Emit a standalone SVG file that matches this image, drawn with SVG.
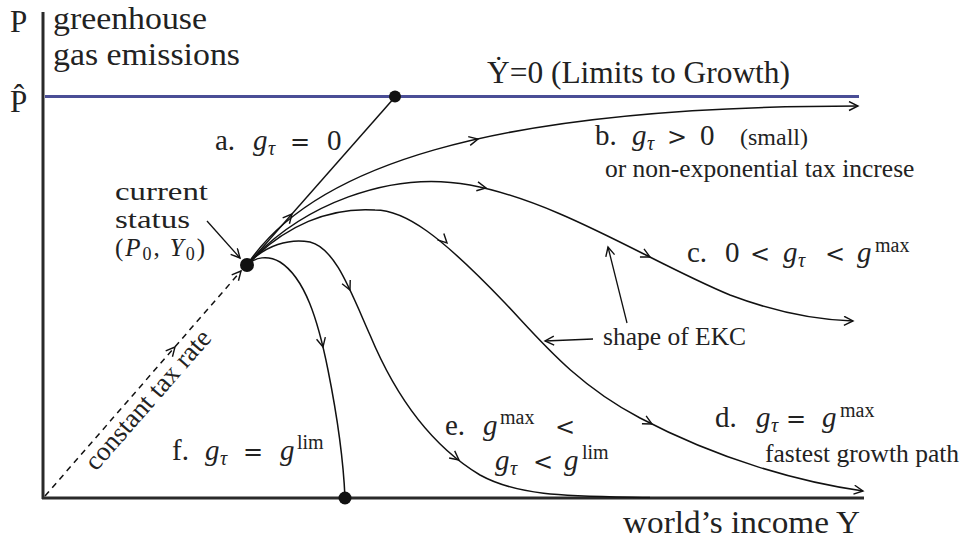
<svg xmlns="http://www.w3.org/2000/svg" width="964" height="545" viewBox="0 0 964 545">
<style>
text{font-family:"Liberation Serif","Times New Roman",serif;fill:#222}
.big{font-size:31px}
.sm{font-size:25.5px}
.m{font-size:29px}
.cs{font-size:25px}
.i{font-style:italic}
.sub{font-size:20px}
.csub{font-size:18px}
.sup{font-size:20px}
.op{font-family:"DejaVu Serif",serif;font-size:24px}
.curve{fill:none;stroke:#111;stroke-width:1.5}
.ptr{fill:none;stroke:#111;stroke-width:1.3;marker-end:url(#head)}
.ax{fill:none;stroke:#2a2a2a;stroke-width:3}
.dot{fill:#111}
</style>
<defs>
<marker id="head" markerWidth="12" markerHeight="12" refX="10" refY="5" orient="auto" markerUnits="userSpaceOnUse">
<path d="M1,0.5 L10,5 L1,9.5" fill="none" stroke="#111" stroke-width="1.4"/>
</marker>
<path id="chev" d="M-9,-4.5 L0,0 L-9,4.5" fill="none" stroke="#111" stroke-width="1.4"/>
</defs>
<rect width="964" height="545" fill="#fff"/>

<g id="axes">
<line class="ax" x1="43" y1="12" x2="43" y2="499"/>
<line class="ax" x1="42" y1="498" x2="864" y2="498"/>
<line x1="45" y1="96.5" x2="859" y2="96.5" stroke="#4a4e96" stroke-width="3"/>
<text class="big" x="10" y="32">P</text>
<text class="big" x="53" y="29" textLength="154" lengthAdjust="spacingAndGlyphs">greenhouse</text>
<text class="big" x="53" y="65" textLength="187" lengthAdjust="spacingAndGlyphs">gas emissions</text>
<text class="big" x="10" y="112">P̂</text>
<text class="big" x="487" y="83" textLength="303" lengthAdjust="spacingAndGlyphs">Ẏ=0 (Limits to Growth)</text>
<text class="big" x="623" y="533" textLength="237" lengthAdjust="spacingAndGlyphs">world’s income Y</text>
</g>

<g id="connectors">
<line class="curve" x1="247" y1="265" x2="395" y2="97"/>
<path class="curve" d="M45,496 L241,271" stroke-dasharray="6 5" marker-end="url(#head)"/>
<path class="curve" d="M247,265 C310,170 480,106 858,106" marker-end="url(#head)"/>
<path class="curve" d="M247,265 C300,205 390,170 470,185 C560,202 650,262 730,295 C775,312 815,320 853,321" marker-end="url(#head)"/>
<path class="curve" d="M247,265 C285,225 330,207 375,210 C405,210 440,235 505,303 C540,340 575,384 640,418 C720,460 800,482 863,491" marker-end="url(#head)"/>
<path class="curve" d="M247,265 C265,245 290,238 310,242 C335,248 350,290 370,335 C395,395 430,445 480,475 C520,497 570,496 650,497.5"/>
<path class="curve" d="M247,265 C255,257 268,255 280,262 C305,278 318,320 328,370 C336,410 343,450 345,498"/>
<use href="#chev" transform="translate(292,214) rotate(-48.6)"/>
<use href="#chev" transform="translate(175,347) rotate(-48.8)"/>
<use href="#chev" transform="translate(478,139) rotate(-12.7)"/>
<use href="#chev" transform="translate(486,188) rotate(10.7)"/>
<use href="#chev" transform="translate(650,257) rotate(26.8)"/>
<use href="#chev" transform="translate(447,243) rotate(45)"/>
<use href="#chev" transform="translate(652,424) rotate(27.7)"/>
<use href="#chev" transform="translate(350,290) rotate(64.7)"/>
<use href="#chev" transform="translate(459,460) rotate(38)"/>
<use href="#chev" transform="translate(323,347) rotate(76.8)"/>
<line class="ptr" x1="207" y1="221" x2="240" y2="258"/>
<line class="ptr" x1="593" y1="339" x2="545" y2="341"/>
<line class="ptr" x1="627" y1="323" x2="608" y2="247"/>
</g>

<g id="node-current">
<circle class="dot" cx="247" cy="265" r="7"/>
<text class="cs" x="115" y="200" textLength="93" lengthAdjust="spacingAndGlyphs">current</text>
<text class="cs" x="115" y="228" textLength="75" lengthAdjust="spacingAndGlyphs">status</text>
<text class="cs" y="256" textLength="90" lengthAdjust="spacing"><tspan x="115">(</tspan><tspan class="i">P</tspan><tspan class="csub" dy="4">0</tspan><tspan dy="-4">, </tspan><tspan class="i">Y</tspan><tspan class="csub" dy="4">0</tspan><tspan dy="-4">)</tspan></text>
</g>
<g id="node-limit"><circle class="dot" cx="395" cy="96.5" r="6"/></g>
<g id="node-zero"><circle class="dot" cx="345" cy="498" r="6.5"/></g>

<g id="label-a">
<text class="m" y="150"><tspan x="215">a.</tspan><tspan x="253" class="i">g</tspan><tspan x="268" y="155" class="sub i">τ</tspan><tspan x="290" y="150" class="op">=</tspan><tspan x="327">0</tspan></text>
</g>
<g id="label-b">
<text class="m" y="145"><tspan x="595">b.</tspan><tspan x="632" class="i">g</tspan><tspan x="647" y="150" class="sub i">τ</tspan><tspan x="667" y="145" class="op">&gt;</tspan><tspan x="700">0</tspan></text>
<text x="740" y="145" style="font-size:24px">(small)</text>
<text class="sm" x="605" y="177">or non-exponential tax increse</text>
</g>
<g id="label-c">
<text class="m" y="262"><tspan x="687">c.</tspan><tspan x="725">0</tspan><tspan x="750" class="op">&lt;</tspan><tspan x="783" class="i">g</tspan><tspan x="798" y="267" class="sub i">τ</tspan><tspan x="825" y="262" class="op">&lt;</tspan><tspan x="857" class="i">g</tspan><tspan x="875" y="252" class="sup">max</tspan></text>
</g>
<g id="label-d">
<text class="m" y="427"><tspan x="715">d.</tspan><tspan x="756" class="i">g</tspan><tspan x="771" y="432" class="sub i">τ</tspan><tspan x="786" y="427" class="op">=</tspan><tspan x="822" class="i">g</tspan><tspan x="840" y="417" class="sup">max</tspan></text>
<text class="sm" x="765" y="462">fastest growth path</text>
</g>
<g id="label-e">
<text class="m" y="435"><tspan x="445">e.</tspan><tspan x="483" class="i">g</tspan><tspan x="500" y="424" class="sup">max</tspan><tspan x="555" y="435" class="op">&lt;</tspan></text>
<text class="m" y="470"><tspan x="495" class="i">g</tspan><tspan x="510" y="475" class="sub i">τ</tspan><tspan x="533" y="470" class="op">&lt;</tspan><tspan x="564" class="i">g</tspan><tspan x="582" y="459" class="sup">lim</tspan></text>
</g>
<g id="label-f">
<text class="m" y="460"><tspan x="172">f.</tspan><tspan x="205" class="i">g</tspan><tspan x="220" y="465" class="sub i">τ</tspan><tspan x="243" y="460" class="op">=</tspan><tspan x="280" class="i">g</tspan><tspan x="297" y="449" class="sup">lim</tspan></text>
</g>
<g id="label-ekc">
<text class="sm" x="603" y="345">shape of EKC</text>
</g>
<g id="label-const">
<text class="sm" transform="translate(96,472) rotate(-48.8)" style="font-size:27px">constant tax rate</text>
</g>
</svg>
